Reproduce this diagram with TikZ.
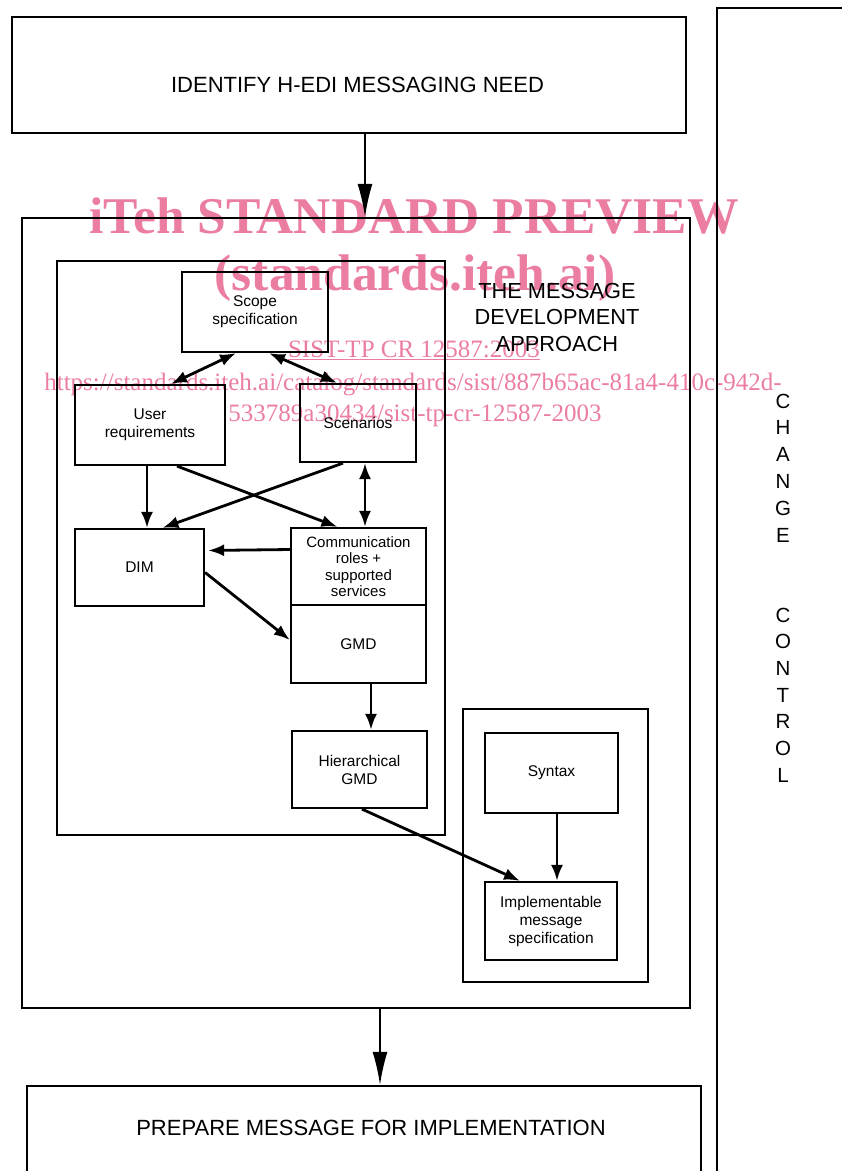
\documentclass[tikz,border=0pt]{standalone}
\usepackage{fontspec}
\setmainfont{Liberation Sans}
\newfontfamily\wmfont{Liberation Serif}
\usetikzlibrary{arrows.meta}
\definecolor{wmpink}{RGB}{235,125,160}
\tikzset{
    box/.style={draw, line width=2.2pt, inner sep=0pt, align=center,
        font=\fontsize{15.5}{18}\selectfont},
    frame/.style={draw, line width=2.4pt, inner sep=0pt},
    title/.style={font=\fontsize{22}{26}\selectfont},
    ccletter/.style={inner sep=0pt, font=\fontsize{20.5}{24}\selectfont},
    arr/.style={-{Latex[length=16pt,width=12pt]}, line width=2.8pt},
    arrtwo/.style={{Latex[length=16pt,width=12pt]}-{Latex[length=16pt,width=12pt]}, line width=2.8pt},
    flow/.style={-{Latex[length=33pt,width=15pt]}, line width=1.7pt},
    wmbig/.style={text=wmpink, anchor=base, inner sep=0pt,
        font=\wmfont\bfseries\fontsize{51.5}{56}\selectfont},
    wmsmall/.style={text=wmpink, anchor=base, inner sep=0pt,
        font=\wmfont\fontsize{25}{28}\selectfont}
}
\begin{document}
\begin{tikzpicture}[x=1pt, y=-1pt]
    \useasboundingbox (0,0) rectangle (842,1171);
    \clip (0,0) rectangle (842,1171);

    % watermark
    \node[wmbig] (wm1) at (414,233) {iTeh STANDARD PREVIEW};
    \node[wmbig] (wm2) at (415,290) {(standards.iteh.ai)};
    \node[wmsmall] (wm3) at (414,357) {\underline{SIST-TP CR 12587:2003}};
    \node[wmsmall] (wm4) at (413,390) {https://standards.iteh.ai/catalog/standards/sist/887b65ac-81a4-410c-942d-};
    \node[wmsmall] (wm5) at (415,421) {533789a30434/sist-tp-cr-12587-2003};

    % outer frames
    \node[frame, minimum width=674pt, minimum height=116pt] (need) at (349,75) {};
    \node[title] (needtxt) at (357.5,84.5) {IDENTIFY H-EDI MESSAGING NEED};
    \node[frame, minimum width=668pt, minimum height=790pt] (approach) at (356,613) {};
    \node[frame, minimum width=674pt, minimum height=114pt] (prepare) at (364,1143) {};
    \node[title] (preparetxt) at (371,1128) {PREPARE MESSAGE FOR IMPLEMENTATION};
    \node[frame, minimum width=153pt, minimum height=1192pt] (change) at (793.5,604) {};

    \foreach \ch [count=\i] in {C,H,A,N,G,E}
        \node[ccletter] (cc\i) at (783, {374.2+26.8*\i}) {\ch};
    \foreach \ch [count=\i] in {C,O,N,T,R,O,L}
        \node[ccletter] (ct\i) at (783, {588.3+26.67*\i}) {\ch};

    \node[align=center, font=\fontsize{21.8}{26.5}\selectfont] (apptxt) at (557,317)
        {THE MESSAGE\\DEVELOPMENT\\APPROACH};

    % inner frames
    \node[frame, minimum width=388pt, minimum height=574pt] (analysis) at (251,548) {};
    \node[frame, minimum width=185pt, minimum height=273pt] (synbox) at (555.5,845.5) {};

    % boxes
    \node[box, minimum width=146pt, minimum height=80pt] (scope) at (255,312) {Scope\\specification};
    \node[box, minimum width=150pt, minimum height=80pt] (user) at (150,425) {User\\requirements};
    \node[box, minimum width=116pt, minimum height=78pt] (scen) at (358,423) {Scenarios};
    \node[box, minimum width=129pt, minimum height=77pt] (dim) at (139.5,567.5) {DIM};
    \node[box, minimum width=135pt, minimum height=77pt,
        font=\fontsize{15}{16.4}\selectfont] (comm) at (358.5,566.5)
        {Communication\\roles +\\supported\\services};
    \node[box, minimum width=135pt, minimum height=78pt] (gmd) at (358.5,644) {GMD};
    \node[box, minimum width=135pt, minimum height=77pt] (hier) at (359.5,769.5) {Hierarchical\\GMD};
    \node[box, minimum width=133pt, minimum height=80pt] (syntax) at (551.5,773) {Syntax};
    \node[box, minimum width=132pt, minimum height=78pt] (impl) at (551,921)
        {Implementable\\message\\specification};

    \draw[flow] ([xshift=16pt]need.south) -- ([xshift=9pt]approach.north);
    \draw[flow] ([xshift=24pt]approach.south) -- ([xshift=16pt]prepare.north);

    \draw[arrtwo] ([xshift=-19pt]scope.south) -- ([xshift=21pt]user.north);
    \draw[arrtwo] ([xshift=14pt]scope.south) -- ([xshift=-21pt]scen.north);
    \draw[arr] ([xshift=-3pt]user.south) -- ([xshift=7.5pt]dim.north);
    \draw[arr] ([xshift=27pt]user.south) -- ([xshift=-21pt]comm.north);
    \draw[arr] ([xshift=-15pt]scen.south) -- ([xshift=23pt]dim.north);
    \draw[arrtwo] ([xshift=7pt]scen.south) -- ([xshift=6.5pt]comm.north);
    \draw[arr, shorten >=3pt] ([yshift=17pt]comm.west) -- ([yshift=17pt]dim.east);
    \draw[arr] ([yshift=-5pt]dim.east) -- ([yshift=4pt]gmd.west);
    \draw[arr] ([xshift=12.5pt]gmd.south) -- ([xshift=11.5pt]hier.north);
    \draw[arr] ([xshift=2.5pt]hier.south) -- ([xshift=-31pt]impl.north);
    \draw[arr] ([xshift=5.5pt]syntax.south) -- ([xshift=6pt]impl.north);
\end{tikzpicture}
\end{document}
